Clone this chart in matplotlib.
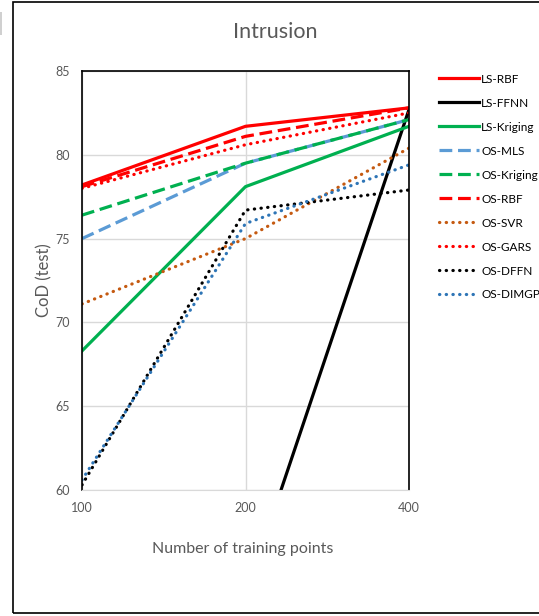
import numpy as np
import matplotlib.pyplot as plt
from matplotlib.patches import Rectangle

plt.rcParams['font.family'] = ['Lato', 'DejaVu Sans']

x_labels = ['100', '200', '400']
ls_rbf = [78.2, 81.7, 82.8]
ls_ffnn = [45.0, 53.7, 82.7]
ls_kriging = [68.3, 78.1, 81.7]
os_mls = [75.0, 79.5, 82.1]
os_kriging = [76.4, 79.5, 82.1]
os_rbf = [78.1, 81.1, 82.8]
os_svr = [71.1, 75.0, 80.4]
os_gars = [78.0, 80.6, 82.5]
os_dffn = [60.3, 76.7, 77.9]
os_dimgp = [60.6, 75.9, 79.4]

gray = '#595959'
fig = plt.figure(figsize=(5.39, 6.16), dpi=100)
fig.patches.append(Rectangle((13 / 539, 3 / 616), 1.0, 611 / 616, transform=fig.transFigure,
                             fill=False, edgecolor='#000000', lw=1.2))
fig.patches.append(Rectangle((0, 1 - 35 / 616), 2 / 539, 23 / 616, transform=fig.transFigure,
                             color='#d0d0d0', lw=0))
ax = fig.add_axes([82 / 539, 1 - 490 / 616, 327 / 539, 419 / 616])

x = np.arange(len(x_labels))
lw = 2.3
dash = (0, (4, 1.8))
dot = (0, (0.1, 2.0))
ax.plot(x, ls_rbf, color='#ff0000', lw=lw, label='LS-RBF')
ax.plot(x, ls_ffnn, color='#000000', lw=lw, label='LS-FFNN')
ax.plot(x, ls_kriging, color='#00b050', lw=lw, label='LS-Kriging')
ax.plot(x, os_mls, color='#5b9bd5', lw=lw, ls=dash, label='OS-MLS')
ax.plot(x, os_kriging, color='#00b050', lw=lw, ls=dash, label='OS-Kriging')
ax.plot(x, os_rbf, color='#ff0000', lw=lw, ls=dash, label='OS-RBF')
ax.plot(x, os_svr, color='#c55a11', lw=lw, ls=dot, dash_capstyle='round', label='OS-SVR')
ax.plot(x, os_gars, color='#ff0000', lw=lw, ls=dot, dash_capstyle='round', label='OS-GARS')
ax.plot(x, os_dffn, color='#000000', lw=lw, ls=dot, dash_capstyle='round', label='OS-DFFN')
ax.plot(x, os_dimgp, color='#2e75b6', lw=lw, ls=dot, dash_capstyle='round', label='OS-DIMGP')

ax.set_xlim(0, 2)
ax.set_ylim(60, 85)
ax.set_xticks(x)
ax.set_xticklabels(x_labels)
ax.set_yticks([60, 65, 70, 75, 80, 85])
ax.grid(True, color='#d9d9d9', lw=1)
ax.set_axisbelow(True)
ax.tick_params(length=0, labelsize=9, colors=gray, pad=9)
ax.tick_params(axis='y', pad=9)
for s in ['left', 'right', 'top']:
    ax.spines[s].set_color('black')
    ax.spines[s].set_linewidth(1.2)
ax.spines['bottom'].set_color('#d9d9d9')

ax.set_title('Intrusion', fontsize=15.5, color=gray, pad=24, x=0.59)
ax.set_xlabel('Number of training points', fontsize=11.5, color=gray, labelpad=20, x=0.49)
ax.set_ylabel('CoD (test)', fontsize=12, color=gray, labelpad=2)

fig.legend(loc='upper left', bbox_to_anchor=(428 / 539, 1 - 63 / 616), frameon=False,
           fontsize=8.5, labelspacing=1.1, handlelength=3.4, handletextpad=0.2,
           labelcolor='#000000')

fig.savefig('out.png', dpi=100)
